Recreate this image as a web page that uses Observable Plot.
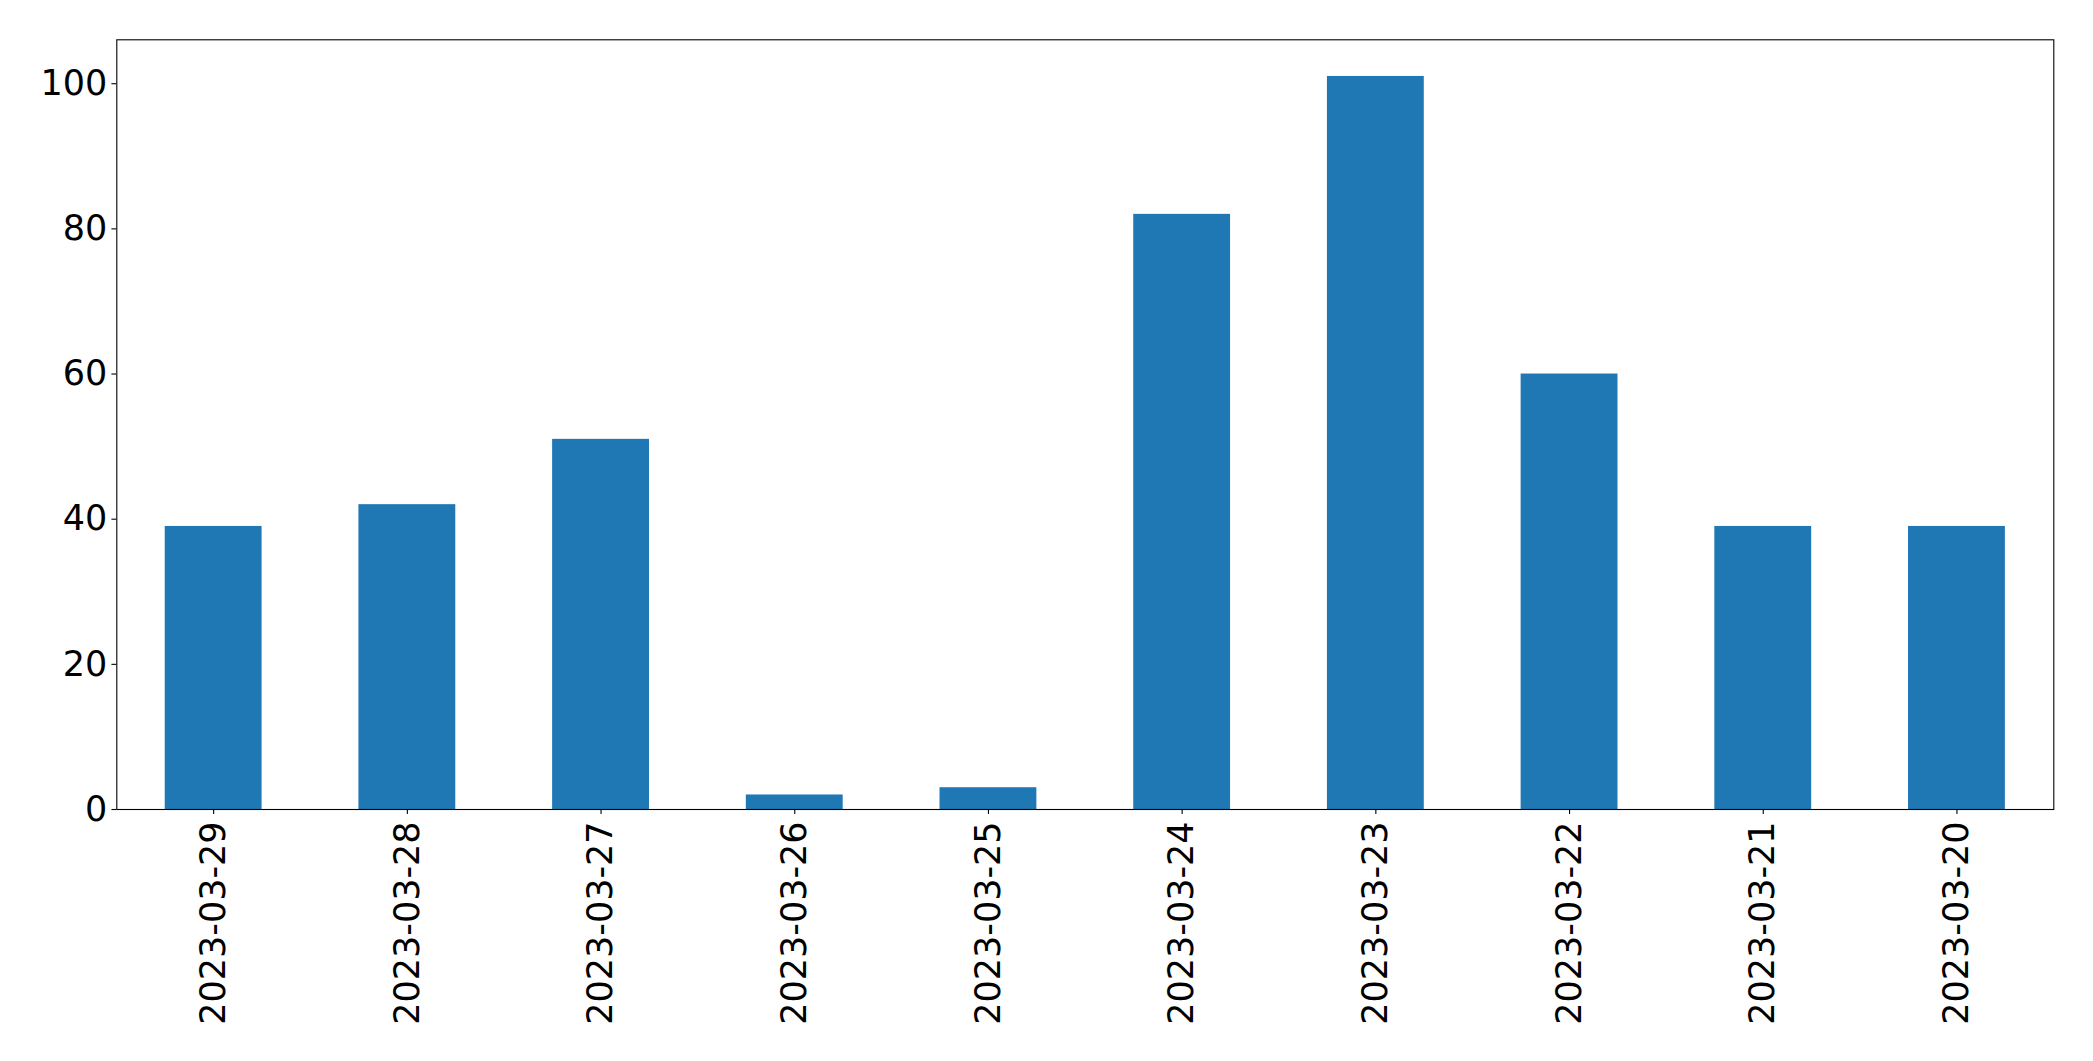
<!DOCTYPE html>
<html>
<head>
<meta charset="utf-8">
<script src="https://cdn.jsdelivr.net/npm/d3@7"></script>
<script src="https://cdn.jsdelivr.net/npm/@observablehq/plot@0.6"></script>
<style>
  html, body { margin: 0; padding: 0; background: #fff; }
  #chart svg { display: block; }
</style>
</head>
<body>
<div id="chart"></div>
<script>
const dates = ["2023-03-29", "2023-03-28", "2023-03-27", "2023-03-26", "2023-03-25",
               "2023-03-24", "2023-03-23", "2023-03-22", "2023-03-21", "2023-03-20"];
const counts = [39, 42, 51, 2, 3, 82, 101, 60, 39, 39];
const yTicks = [0, 20, 40, 60, 80, 100];

const data = dates.map((d, i) => ({date: d, count: counts[i]}));

const chart = Plot.plot({
  width: 2093,
  height: 1061,
  marginLeft: 116.3,
  marginRight: 39.7,
  marginTop: 39.3,
  marginBottom: 252,
  style: {fontFamily: "DejaVu Sans", fontSize: "35px", color: "#000", background: "#fff"},
  x: {domain: dates, paddingInner: 0.5, paddingOuter: 0.25, round: false, label: null},
  y: {domain: [0, d3.max(counts) * 1.05], label: null},
  marks: [
    Plot.barY(data, {x: "date", y: "count", fill: "#1f77b4"}),
    Plot.frame({stroke: "#000", strokeWidth: 1.1}),
    Plot.axisY({ticks: yTicks, tickSize: 4.9, tickPadding: 4.5, fontSize: 35, label: null, strokeWidth: 1.1}),
    Plot.axisX({tickSize: 4.9, tickPadding: 7, tickRotate: -90, fontSize: 35, label: null, strokeWidth: 1.1})
  ]
});
document.getElementById("chart").appendChild(chart);
</script>
</body>
</html>
